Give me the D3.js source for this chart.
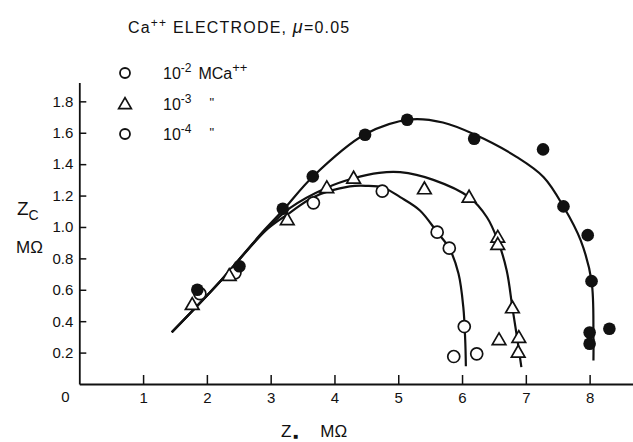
<!DOCTYPE html>
<html><head><meta charset="utf-8">
<script src="https://cdn.jsdelivr.net/npm/d3@7"></script>
<style>
body{margin:0;background:#fff;}
svg text{font-family:"Liberation Sans",Arial,sans-serif;fill:#111;}
</style></head>
<body><svg id="c" width="633" height="442"></svg>
<script>
// ---- data ----
const xTicks = [1,2,3,4,5,6,7,8];
const yTicks = [0.2,0.4,0.6,0.8,1.0,1.2,1.4,1.6,1.8];
const yTickLabels = ["0.2","0.4","0.6","0.8","1.0","1.2","1.4","1.6","1.8"];

// 10^-2 M Ca++ (filled circles)
const pts2 = [[1.85,0.60],[2.51,0.75],[3.19,1.116],[3.66,1.322],[4.48,1.587],[5.14,1.683],[6.19,1.562],[7.27,1.494],[7.59,1.131],[7.97,0.948],[8.03,0.655],[8.00,0.328],[8.00,0.256],[8.31,0.352]];
// 10^-3 (triangles)
const pts3 = [[1.77,0.506],[2.35,0.691],[3.26,1.046],[3.88,1.25],[4.30,1.311],[5.41,1.243],[6.11,1.19],[6.56,0.935],[6.56,0.889],[6.79,0.485],[6.89,0.296],[6.88,0.203],[6.58,0.282]];
// 10^-4 (open circles)
const pts4 = [[1.89,0.575],[2.44,0.708],[3.67,1.154],[4.75,1.228],[5.61,0.967],[5.80,0.865],[6.035,0.366],[5.87,0.175],[6.23,0.192]];

// fitted curves
const curve2 = [[1.45,0.33],[2.2,0.65],[2.9,0.98],[3.2,1.11],[3.66,1.32],[4.48,1.59],[5.2,1.685],[5.7,1.665],[6.19,1.59],[6.86,1.445],[7.28,1.317],[7.59,1.13],[7.86,0.914],[8.03,0.655],[8.06,0.30],[8.06,0.15]];
const curve3 = [[1.45,0.33],[2.2,0.65],[2.9,0.97],[3.3,1.12],[3.88,1.25],[4.3,1.31],[4.7,1.345],[5.03,1.349],[5.55,1.30],[6.11,1.19],[6.39,1.062],[6.56,0.914],[6.70,0.723],[6.79,0.485],[6.87,0.277],[6.93,0.107]];
const curve4 = [[1.45,0.33],[2.2,0.65],[2.9,0.97],[3.3,1.09],[3.67,1.19],[4.24,1.258],[4.5,1.262],[4.77,1.25],[5.03,1.19],[5.34,1.105],[5.61,0.967],[5.80,0.865],[5.945,0.702],[6.02,0.489],[6.05,0.277],[6.06,0.113]];

const legendExp = ["-2","-3","-4"];
const legendTail = ["MCa","\"","\""];

// ---- drawing ----
const svg = d3.select("#c");
const x = d3.scaleLinear().domain([0, 8.68]).range([79.3, 633]);
const y = d3.scaleLinear().domain([0, 1.92]).range([384, 82.5]);

const xAxis = svg.append("g").attr("transform","translate(0,384)")
  .call(d3.axisBottom(x).tickValues(xTicks).tickFormat(d3.format("d")).tickSizeInner(-9).tickSizeOuter(0).tickPadding(8));
const yAxis = svg.append("g").attr("transform","translate(79.3,0)")
  .call(d3.axisLeft(y).tickValues(yTicks).tickFormat((d,i)=>yTickLabels[i]).tickSizeInner(-7).tickSizeOuter(0).tickPadding(6));
[xAxis,yAxis].forEach(g=>{
  g.selectAll("path.domain").attr("stroke","#111").attr("stroke-width",1.8);
  g.selectAll(".tick line").attr("stroke","#111").attr("stroke-width",1.5);
  g.selectAll(".tick text").style("font-size","15px").attr("fill","#111");
});
svg.append("text").attr("x",x(0)-14).attr("y",402).style("font-size","15px").attr("text-anchor","middle").text("0");

// curves
const line = d3.line().x(d=>x(d[0])).y(d=>y(d[1])).curve(d3.curveCatmullRom.alpha(0.5));
[curve2,curve3,curve4].forEach(c=>{
  svg.append("path").attr("d",line(c)).attr("fill","none").attr("stroke","#111").attr("stroke-width",2.2);
});

const tri = d3.symbol().type(d3.symbolTriangle).size(80);
// markers
svg.append("g").selectAll("circle").data(pts4).join("circle")
  .attr("cx",d=>x(d[0])).attr("cy",d=>y(d[1])).attr("r",6)
  .attr("fill","#fff").attr("stroke","#111").attr("stroke-width",1.7);
svg.append("g").selectAll("path").data(pts3).join("path")
  .attr("d",tri).attr("transform",d=>`translate(${x(d[0])},${y(d[1])+1})`)
  .attr("fill","#fff").attr("stroke","#111").attr("stroke-width",1.7);
svg.append("g").selectAll("circle").data(pts2).join("circle")
  .attr("cx",d=>x(d[0])).attr("cy",d=>y(d[1])).attr("r",6.3)
  .attr("fill","#111");

// title
const t = svg.append("text").attr("x",128).attr("y",33).style("font-size","16px").style("letter-spacing","1.2px");
t.append("tspan").text("Ca");
t.append("tspan").attr("dy",-6).style("font-size","12px").text("++");
t.append("tspan").attr("dy",6).text(" ELECTRODE, ");
t.append("tspan").style("font-style","italic").style("font-size","18px").text("\u03bc");
t.append("tspan").text("=0.05");

// legend
const rows = [73,104,134];
rows.forEach((ry,i)=>{
  if(i===1){
    svg.append("path").attr("d",d3.symbol().type(d3.symbolTriangle).size(70)())
      .attr("transform",`translate(125,${ry+1})`).attr("fill","#fff").attr("stroke","#111").attr("stroke-width",1.7);
  } else {
    svg.append("circle").attr("cx",125).attr("cy",ry).attr("r",5).attr("fill","#fff").attr("stroke","#111").attr("stroke-width",1.8);
  }
  const lt = svg.append("text").attr("x",163).attr("y",ry+6).style("font-size","16px");
  lt.append("tspan").text("10");
  lt.append("tspan").attr("dy",-7).style("font-size","12px").text(legendExp[i]);
  if(i===0){
    lt.append("tspan").attr("dy",7).attr("dx",7).text(legendTail[i]);
    lt.append("tspan").attr("dy",-7).style("font-size","13px").text("++");
  } else {
    lt.append("tspan").attr("dy",4).attr("dx",18).style("font-size","13px").attr("fill","#111").text(legendTail[i]);
  }
});

// axis titles
const yl = svg.append("text").attr("x",17).attr("y",215).style("font-size","19px");
yl.append("tspan").text("Z");
yl.append("tspan").attr("dy",5).style("font-size","14px").text("C");
svg.append("text").attr("x",16).attr("y",253).style("font-size","17px").text("M\u03a9");

const xl = svg.append("text").attr("x",281).attr("y",437).style("font-size","17px");
xl.append("tspan").text("Z");
xl.append("tspan").attr("dy",2).attr("dx",2).style("font-size","8px").text("\u25a0");
xl.append("tspan").attr("dy",-2).attr("dx",22).text("M\u03a9");
</script></body></html>
